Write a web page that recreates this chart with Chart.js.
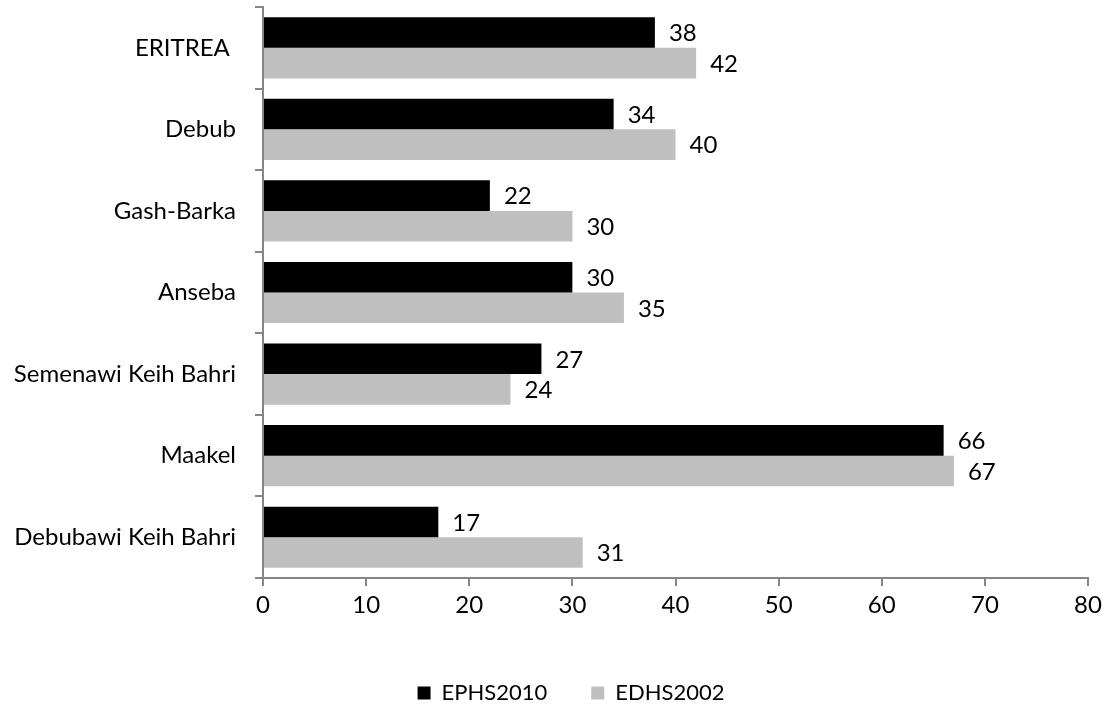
<!DOCTYPE html>
<html>
<head>
<meta charset="utf-8">
<script src="https://cdn.jsdelivr.net/npm/chart.js@4/dist/chart.umd.min.js"></script>
<style>
  html, body { margin: 0; padding: 0; background: #fff; }
  #wrap { width: 1107px; height: 704px; }
</style>
</head>
<body>
<div id="wrap"><canvas id="barChart"></canvas></div>
<script>
// du lieu bieu do
const regions = ['ERITREA ', 'Debub', 'Gash-Barka', 'Anseba', 'Semenawi Keih Bahri', 'Maakel', 'Debubawi Keih Bahri'];
const ephs2010 = [38, 34, 22, 30, 27, 66, 17];
const edhs2002 = [42, 40, 30, 35, 24, 67, 31];
const xTicks = [0, 10, 20, 30, 40, 50, 60, 70, 80];

const FONT = 'Lato, Calibri, sans-serif';
const AXIS = '#868686';

// ve so lieu o cuoi moi thanh
const valueLabels = {
    id: 'valueLabels',
    afterDatasetsDraw(chart) {
        const ctx = chart.ctx;
        ctx.save();
        ctx.font = '24px ' + FONT;
        ctx.fillStyle = '#000';
        ctx.textAlign = 'left';
        ctx.textBaseline = 'middle';
        chart.data.datasets.forEach((ds, i) => {
            chart.getDatasetMeta(i).data.forEach((bar, j) => {
                ctx.fillText(String(ds.data[j]), bar.x + 14, bar.y + 1);
            });
        });
        ctx.restore();
    }
};

// day chu giai sang phai mot chut
const legendShift = {
    id: 'legendShift',
    afterLayout(chart) {
        chart.legend.left += 27;
        chart.legend.right += 27;
    }
};

document.addEventListener('DOMContentLoaded', function () {
    var ctx = document.getElementById('barChart').getContext('2d');
    new Chart(ctx, {
        type: 'bar',
        data: {
            labels: regions,
            datasets: [{
                label: 'EPHS2010',
                data: ephs2010,
                backgroundColor: '#000000',
                borderWidth: 0
            }, {
                label: 'EDHS2002',
                data: edhs2002,
                backgroundColor: '#bfbfbf',
                borderWidth: 0
            }]
        },
        options: {
            indexAxis: 'y',
            responsive: true,
            maintainAspectRatio: false,
            animation: false,
            categoryPercentage: 0.75,
            barPercentage: 1.0,
            layout: { padding: { top: 7, right: 19, left: 0, bottom: 0 } },
            plugins: {
                tooltip: { enabled: false },
                legend: {
                    position: 'bottom',
                    maxHeight: 66,
                    labels: {
                        font: { family: FONT, size: 22 },
                        color: '#000',
                        boxWidth: 13,
                        boxHeight: 13,
                        padding: 44
                    }
                }
            },
            scales: {
                x: {
                    min: 0,
                    max: 80,
                    afterBuildTicks: (s) => { s.ticks = xTicks.map(v => ({ value: v })); },
                    afterFit: (s) => { s.height = 60; },
                    grid: { drawOnChartArea: false, tickLength: 8, color: AXIS, lineWidth: 2 },
                    border: { color: AXIS, width: 2 },
                    ticks: { font: { family: FONT, size: 24 }, color: '#000', padding: 5 }
                },
                y: {
                    afterFit: (s) => { s.width = 263; s.paddingTop = 0; s.paddingBottom = 0; },
                    grid: { offset: true, drawOnChartArea: false, tickLength: 8, color: AXIS, lineWidth: 2 },
                    border: { color: AXIS, width: 2 },
                    ticks: { font: { family: FONT, size: 24 }, color: '#000', padding: 19 }
                }
            }
        },
        plugins: [valueLabels, legendShift]
    });
});
</script>
</body>
</html>
